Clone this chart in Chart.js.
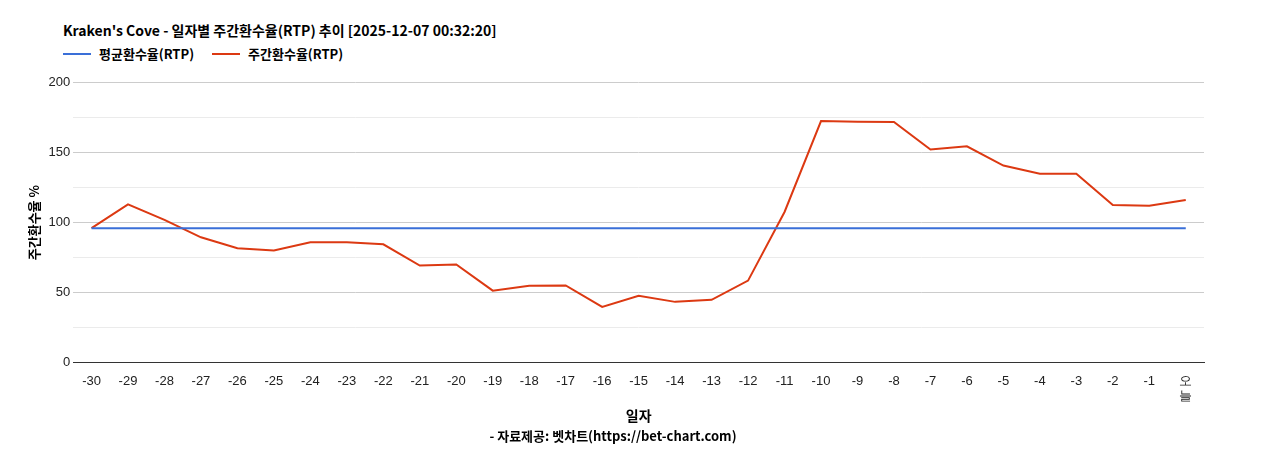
<!DOCTYPE html>
<html>
<head>
<meta charset="utf-8">
<script src="https://cdn.jsdelivr.net/npm/chart.js@4"></script>
<style>
  body { margin: 0; background: #fff; font-family: 'Noto Sans CJK KR', sans-serif; }
  #wrap { position: relative; width: 1268px; height: 450px; }
  #head { position: absolute; left: 63px; top: 20px; }
  #title { font-size: 14px; font-weight: bold; line-height: 20px; }
  #legend { font-size: 13px; font-weight: bold; margin-top: 4px; display: flex; gap: 18px; }
  .item { display: flex; align-items: center; gap: 8px; }
  .sw { width: 28px; height: 2px; }
  #box { position: absolute; left: 0; top: 72px; width: 1268px; height: 378px; }
</style>
</head>
<body>
<div id="wrap">
  <div id="head">
    <div id="title">Kraken's Cove - 일자별 주간환수율(RTP) 추이 [2025-12-07 00:32:20]</div>
    <div id="legend"></div>
  </div>
  <div id="box"><canvas id="myChart"></canvas></div>
</div>
<script>
const labels = ["-30","-29","-28","-27","-26","-25","-24","-23","-22","-21","-20","-19","-18","-17","-16","-15","-14","-13","-12","-11","-10","-9","-8","-7","-6","-5","-4","-3","-2","-1",["오","늘"]];
const weeklyRtp = [96,113,102,89.5,81.6,80,86,86,84.5,69.3,70,51.3,54.9,55,39.7,47.7,43.3,44.8,58.5,107.6,172.6,172.2,172,152.3,154.6,140.8,135,135,112.6,112,116.2];
const avgRtp = labels.map(() => 96);

const kr = "'Noto Sans CJK KR', sans-serif";
Chart.defaults.font.family = "'Liberation Sans', Arial, sans-serif";
Chart.defaults.color = "#222";

const ctx = document.getElementById("myChart").getContext("2d");
const myChart = new Chart(ctx, {
  type: "line",
  data: {
    labels: labels,
    datasets: [
      { label: "평균환수율(RTP)", data: avgRtp, borderColor: "#3a6fd8", borderWidth: 2, pointRadius: 0, tension: 0 },
      { label: "주간환수율(RTP)", data: weeklyRtp, borderColor: "#dc3912", borderWidth: 2, pointRadius: 0, tension: 0 },
    ],
  },
  options: {
    responsive: true,
    maintainAspectRatio: false,
    animation: false,
    layout: { padding: { left: 22, right: 64, top: 8, bottom: 2 } },
    plugins: {
      legend: { display: false },
      subtitle: {
        display: true,
        position: "bottom",
        text: "- 자료제공: 벳차트(https://bet-chart.com)",
        color: "#000",
        font: { family: kr, size: 13, weight: "bold" },
        padding: { top: 0, bottom: 4 },
      },
    },
    scales: {
      x: {
        offset: true,
        grid: { display: false },
        border: { color: "#333" },
        ticks: { font: { size: 13 }, maxRotation: 0, autoSkip: false, color: "#222" },
        title: { display: true, text: "일자", color: "#000", font: { family: kr, size: 14, weight: "bold" }, padding: { top: 0 } },
      },
      y: {
        min: 0,
        max: 200,
        ticks: { stepSize: 25, font: { size: 13 }, callback: (v) => (v % 50 === 0 ? v : "") },
        grid: {
          color: (c) => (c.tick && c.tick.value % 50 === 0 ? "#ccc" : "#ebebeb"),
          drawTicks: false,
        },
        border: { display: false },
        title: { display: true, text: "주간환수율 %", color: "#000", font: { family: kr, size: 13, weight: "bold" } },
      },
    },
  },
});

const legend = document.getElementById("legend");
myChart.data.datasets.forEach((ds) => {
  legend.innerHTML += `<div class="item"><div class="sw" style="background:${ds.borderColor}"></div>${ds.label}</div>`;
});
</script>
</body>
</html>
